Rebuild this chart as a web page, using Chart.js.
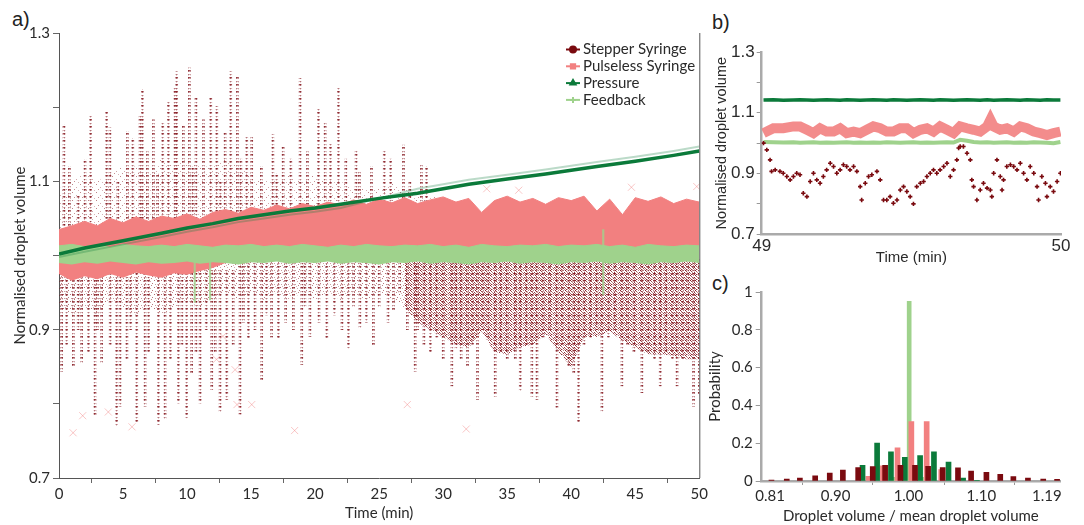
<!DOCTYPE html>
<html><head><meta charset="utf-8">
<script src="https://cdn.jsdelivr.net/npm/chart.js@4.4.1/dist/chart.umd.min.js"></script>
<style>
html,body{margin:0;padding:0;background:#fff;width:1084px;height:525px;overflow:hidden;}
canvas{position:absolute;}
.lab{position:absolute;font-family:"Liberation Sans",Arial,sans-serif;font-size:20px;color:#222;line-height:22px;}
</style></head><body>
<div class="lab" style="left:12px;top:8px">a)</div>
<div class="lab" style="left:712px;top:11px">b)</div>
<div class="lab" style="left:712px;top:272px">c)</div>
<canvas id="ca" style="left:0;top:0" width="710" height="525"></canvas>
<canvas id="cb" style="left:700px;top:0" width="384" height="270"></canvas>
<canvas id="cc" style="left:700px;top:270px" width="384" height="255"></canvas>
<script>
// ---------- shared ----------
const seriesNames = ['Stepper Syringe','Pulseless Syringe','Pressure','Feedback'];
const C_RED = '#7a0a0f', C_PINK = '#f28080', C_DG = '#0b7a3a', C_LG = '#9fd28c';

// ---------- panel a data ----------
const timeTicksA = [0,5,10,15,20,25,30,35,40,45,50];
const yTickValsA = [0.7,0.8,0.9,1.0,1.1,1.2,1.3];
const yTickLabelsA = ['0.7','','0.9','','1.1','','1.3'];

// Stepper syringe: vertical streaks (time, lowest value, highest value)
const stepperT = [
 0.39,0.81,1.5,2.03,2.47,3.72,3.98,4.6,5.34,5.76,6.33,6.51,6.9,7.37,7.7,8.1,8.54,9.06,9.19,9.71,
 10.18,10.45,10.7,11.28,11.85,12.32,12.6,12.97,13.41,13.93,14.2,14.66,15.05,15.8,16.7,17.0,17.5,18.1,18.83,19.4,
 20.26,20.78,21.2,21.82,22.4,23.2,23.46,24.4,25.4,25.9,26.9,27.4,28.3,28.7,
 0.21,0.6,1.12,1.5,1.77,2.3,2.81,3.0,3.33,4.0,4.5,4.77,5.3,5.6,6.07,6.72,7.0,7.76,8.28,8.7,
 9.32,9.6,9.97,10.36,10.7,11.02,11.5,11.93,12.2,12.58,13.1,13.6,14.14,14.4,14.79,15.3,15.83,16.2,16.6,17.13,
 17.7,18.3,18.96,19.2,19.6,20.3,20.91,21.5,22.1,22.6,23.0,23.5,24.0,24.55,25.0,25.7,26.12,26.6,27.2,27.81,
 28.0,28.5,29.0,29.5,30.0,30.68,31.0,31.4,31.9,32.3,32.68,33.1,33.5,34.06,34.5,35.0,35.63,36.02,36.5,36.93,
 37.32,37.8,38.3,38.88,39.3,39.8,40.2,40.57,41.0,41.5,42.0,42.4,42.9,43.4,43.96,44.4,44.9,45.52,46.0,46.5,
 46.95,47.4,47.9,48.26,48.7,49.1,49.55,50.0];
const stepperLo = [
 1.02,1.02,1.02,1.02,1.02,1.02,1.02,1.02,1.02,1.02,1.02,1.02,1.02,1.02,1.02,1.02,1.02,1.02,1.02,1.02,
 1.02,1.02,1.02,1.02,1.02,1.02,1.02,1.02,1.02,1.02,1.04,1.04,1.04,1.04,1.04,1.04,1.04,1.04,1.04,1.04,
 1.05,1.05,1.05,1.05,1.05,1.05,1.05,1.05,1.05,1.05,1.05,1.05,1.05,1.05,
 0.844,0.880,0.851,0.900,0.855,0.870,0.783,0.900,0.855,0.880,0.770,0.797,0.860,0.900,0.774,0.797,0.870,0.772,0.779,0.860,
 0.801,0.880,0.781,0.842,0.870,0.801,0.900,0.819,0.870,0.788,0.806,0.880,0.786,0.910,0.887,0.900,0.830,0.920,0.890,0.887,
 0.910,0.900,0.853,0.930,0.891,0.910,0.889,0.920,0.900,0.875,0.930,0.902,0.910,0.878,0.930,0.910,0.927,0.950,0.900,0.844,
 0.900,0.880,0.870,0.890,0.860,0.824,0.875,0.860,0.850,0.880,0.806,0.900,0.890,0.810,0.870,0.860,0.860,0.817,0.880,0.810,
 0.806,0.890,0.900,0.795,0.880,0.850,0.840,0.774,0.880,0.890,0.900,0.790,0.890,0.900,0.824,0.880,0.870,0.815,0.870,0.860,
 0.824,0.870,0.860,0.824,0.860,0.870,0.797,0.811];
const stepperHi = [
 1.176,1.120,1.080,1.129,1.190,1.194,1.172,1.100,1.167,1.158,1.188,1.224,1.140,1.183,1.110,1.179,1.208,1.226,1.248,1.174,
 1.253,1.120,1.212,1.183,1.212,1.201,1.100,1.165,1.248,1.241,1.130,1.161,1.161,1.120,1.163,1.110,1.147,1.130,1.239,1.140,
 1.197,1.181,1.150,1.226,1.130,1.143,1.113,1.120,1.143,1.130,1.149,1.100,1.122,1.120,
 0.98,0.98,0.98,0.98,0.98,0.98,0.98,0.98,0.98,0.98,0.98,0.98,0.98,0.98,0.98,0.98,0.98,0.98,0.98,0.98,
 0.98,0.98,0.98,0.98,0.98,0.98,0.98,0.98,0.98,0.98,0.98,0.98,0.99,0.99,0.99,0.99,0.99,0.99,0.99,0.99,
 0.99,0.99,0.99,0.99,0.99,0.99,0.99,0.99,0.99,0.99,0.99,0.99,0.99,0.99,0.99,0.99,0.99,0.99,0.99,0.99,
 0.995,0.995,0.995,0.995,0.995,0.995,0.995,0.995,0.995,0.995,0.995,0.995,0.995,0.995,0.995,0.995,0.995,0.995,0.995,0.995,
 0.995,0.995,0.995,0.995,0.995,0.995,0.995,0.995,0.995,0.995,0.995,0.995,0.995,0.995,0.995,0.995,0.995,0.995,0.995,0.995,
 0.995,0.995,0.995,0.995,0.995,0.995,0.995,0.995];

// Per-minute envelopes
const bandT = [0,1,2,3,4,5,6,7,8,9,10,11,12,13,14,15,16,17,18,19,20,21,22,23,24,25,26,27,28,29,30,31,32,33,34,35,36,37,38,39,40,41,42,43,44,45,46,47,48,49,50];
// Stepper: dense cloud of points below the bands, and above the bands
const stepperCloudLo = [0.93,0.92,0.93,0.92,0.94,0.93,0.92,0.93,0.92,0.93,0.94,0.93,0.94,0.95,0.94,0.95,0.94,0.95,0.94,0.95,
 0.94,0.95,0.94,0.95,0.94,0.95,0.94,0.93,0.91,0.90,0.89,0.88,0.876,0.898,0.87,0.867,0.876,0.88,0.894,0.87,
 0.85,0.89,0.89,0.898,0.885,0.876,0.867,0.867,0.865,0.86,0.86];
const stepperCloudHi = [0.995,0.995,0.995,0.995,0.995,0.995,0.995,0.995,0.995,0.995,0.995,0.995,0.995,0.995,0.995,0.995,0.995,0.995,0.995,0.995,
 0.995,0.995,0.995,0.995,0.995,0.995,0.995,0.995,0.995,0.995,0.995,0.995,0.995,0.995,0.995,0.995,0.995,0.995,0.995,0.995,
 0.995,0.995,0.995,0.995,0.995,0.995,0.995,0.995,0.995,0.995,0.995];
const stepperUpperHi = [1.09,1.10,1.11,1.10,1.11,1.12,1.12,1.11,1.13,1.12,1.13,1.12,1.12,1.13,1.12,1.11,1.10,1.10,1.11,1.10,
 1.11,1.10,1.10,1.09,1.09,1.09,1.10,1.09,1.08,1.08,1.079,1.072,1.077,1.058,1.074,1.080,1.072,1.077,1.069,1.078,
 1.074,1.080,1.060,1.076,1.055,1.078,1.073,1.079,1.070,1.076,1.072];

// Pulseless syringe band and outlying crosses
const pulselessTop = [1.035,1.040,1.046,1.040,1.050,1.044,1.052,1.046,1.053,1.050,1.056,1.049,1.058,1.062,1.057,1.065,1.061,1.068,1.063,1.070,
 1.066,1.072,1.068,1.075,1.069,1.076,1.071,1.078,1.070,1.075,1.079,1.072,1.077,1.058,1.074,1.080,1.072,1.077,1.069,1.078,
 1.074,1.080,1.060,1.076,1.055,1.078,1.073,1.079,1.070,1.076,1.072];
const pulselessBottom = [0.975,0.966,0.972,0.968,0.975,0.970,0.977,0.973,0.970,0.976,0.974,0.979,0.983,0.990,0.995,0.995,0.995,0.995,0.995,0.995,
 0.995,0.995,0.995,0.995,0.995,0.995,0.995,0.995,0.995,0.995,0.995,0.995,0.995,0.995,0.995,0.995,0.995,0.995,0.995,0.995,
 0.995,0.995,0.995,0.995,0.995,0.995,0.995,0.995,0.995,0.995,0.995];
const pulselessOutT = [1.1,1.85,3.85,5.7,12.3,12.8,13.75,13.9,15.05,18.4,27.2,31.8,33.4,35.9,44.7,49.8];
const pulselessOutV = [0.761,0.784,0.789,0.769,0.860,0.891,0.846,0.799,0.799,0.764,0.799,0.766,1.090,1.088,1.092,1.093];

// Feedback band and spikes
const feedbackTop = [1.013,1.015,1.012,1.014,1.011,1.015,1.013,1.012,1.014,1.012,1.015,1.013,1.011,1.014,1.013,1.015,1.012,1.014,1.012,1.015,
 1.013,1.011,1.014,1.012,1.015,1.013,1.012,1.014,1.013,1.015,1.012,1.014,1.011,1.015,1.013,1.012,1.014,1.013,1.015,1.012,
 1.014,1.013,1.015,1.012,1.014,1.011,1.015,1.013,1.012,1.014,1.013];
const feedbackBottom = [0.990,0.988,0.991,0.989,0.992,0.990,0.988,0.991,0.989,0.990,0.992,0.989,0.991,0.990,0.988,0.991,0.990,0.992,0.989,0.991,
 0.990,0.992,0.989,0.991,0.990,0.988,0.991,0.990,0.992,0.989,0.991,0.990,0.988,0.991,0.990,0.992,0.989,0.991,0.990,0.988,
 0.991,0.990,0.992,0.989,0.991,0.990,0.988,0.991,0.990,0.992,0.990];
const feedbackSpikeT = [10.6,11.8,42.5];
const feedbackSpikeLo = [0.937,0.940,0.947];
const feedbackSpikeHi = [1.0,1.0,1.035];

// Pressure (two tracks)
const pressureT = [0,2,5,8,10,12,14,16,18,20,22,25,28,30,32,35,38,40,42,45,48,50];
const pressureV = [1.002,1.010,1.020,1.030,1.037,1.043,1.050,1.055,1.060,1.064,1.069,1.077,1.084,1.090,1.096,1.103,1.110,1.115,1.120,1.127,1.135,1.141];
const pressureAltV = [0.998,1.005,1.015,1.025,1.032,1.038,1.045,1.050,1.055,1.059,1.064,1.077,1.090,1.096,1.102,1.109,1.116,1.121,1.126,1.133,1.141,1.147];

// ---------- panel b data (minute 49-50) ----------
const stepperBT = [
 49.006,49.017,49.028,49.033,49.045,49.061,49.072,49.084,49.095,49.106,
 49.117,49.128,49.139,49.151,49.162,49.173,49.184,49.195,49.206,49.217,
 49.229,49.240,49.251,49.262,49.273,49.284,49.295,49.307,49.318,49.329,
 49.334,49.346,49.357,49.368,49.385,49.396,49.407,49.418,49.429,49.440,
 49.452,49.463,49.474,49.485,49.496,49.507,49.518,49.530,49.541,49.552,
 49.563,49.574,49.585,49.596,49.608,49.619,49.630,49.641,49.652,49.658,
 49.663,49.674,49.686,49.697,49.702,49.708,49.719,49.730,49.741,49.753,
 49.764,49.769,49.775,49.786,49.797,49.803,49.808,49.819,49.831,49.842,
 49.853,49.864,49.875,49.886,49.897,49.909,49.920,49.925,49.936,49.948,
 49.953,49.964,49.975,49.987,49.998];
const stepperBV = [
 1.000,0.978,0.945,0.907,0.912,0.907,0.901,0.890,0.879,0.890,
 0.901,0.896,0.835,0.824,0.874,0.901,0.879,0.868,0.890,0.912,
 0.934,0.923,0.901,0.912,0.929,0.923,0.912,0.923,0.907,0.857,
 0.813,0.868,0.890,0.896,0.907,0.879,0.813,0.813,0.824,0.802,
 0.813,0.846,0.857,0.841,0.824,0.800,0.857,0.868,0.874,0.890,
 0.901,0.912,0.901,0.912,0.923,0.934,0.890,0.912,0.945,0.984,
 0.989,0.989,0.967,0.945,0.879,0.857,0.813,0.846,0.868,0.852,
 0.846,0.824,0.901,0.945,0.890,0.846,0.879,0.923,0.929,0.923,
 0.912,0.934,0.901,0.879,0.923,0.901,0.857,0.813,0.890,0.868,
 0.824,0.857,0.841,0.874,0.901];
const bT = [49.006,49.039,49.072,49.106,49.128,49.151,49.173,49.195,49.217,49.240,49.262,49.284,49.307,49.329,49.351,
 49.373,49.396,49.418,49.440,49.463,49.485,49.507,49.530,49.552,49.574,49.596,49.619,49.641,49.663,49.686,
 49.708,49.730,49.753,49.764,49.775,49.797,49.819,49.842,49.864,49.886,49.909,49.931,49.953,49.975,49.998];
const pulselessBV = [1.033,1.049,1.049,1.055,1.055,1.044,1.033,1.049,1.038,1.038,1.049,1.033,1.038,1.033,1.044,
 1.055,1.049,1.038,1.038,1.049,1.049,1.033,1.044,1.049,1.038,1.055,1.044,1.033,1.055,1.049,
 1.044,1.038,1.055,1.077,1.055,1.044,1.049,1.038,1.055,1.049,1.038,1.033,1.027,1.033,1.038];
const feedbackBV = [1.004,1.003,1.002,1.003,1.001,1.002,1.003,1.001,1.002,1.001,1.002,1.003,1.001,1.002,1.001,
 1.002,1.001,1.003,1.002,1.001,1.002,1.003,1.001,1.002,1.001,1.002,1.003,1.002,1.011,1.008,
 1.004,1.002,1.003,1.002,1.001,1.002,1.003,1.001,1.002,1.001,1.003,1.002,1.001,1.000,1.004];
const pressureBV = [1.142,1.143,1.141,1.142,1.143,1.142,1.141,1.142,1.143,1.142,1.141,1.143,1.142,1.141,1.142,
 1.143,1.142,1.141,1.143,1.142,1.141,1.142,1.143,1.142,1.141,1.143,1.142,1.141,1.142,1.143,
 1.142,1.141,1.143,1.142,1.141,1.142,1.143,1.142,1.141,1.143,1.142,1.141,1.143,1.142,1.142];
const yTickValsB = [0.7,0.8,0.9,1.0,1.1,1.2,1.3];
const yTickLabelsB = ['0.7','','0.9','','1.1','','1.3'];
const xTickValsB = [49,50];

// ---------- panel c data (histogram) ----------
const histTicks = [0.81,0.90,1.00,1.10,1.19];
const histStepperX = [0.812,0.833,0.851,0.872,0.892,0.910,0.931,0.951,0.968,0.989,1.009,1.027,1.047,1.068,1.086,1.107,1.126,1.144,1.164,1.185,1.204];
const histStepperP = [0.005,0.010,0.016,0.028,0.042,0.058,0.071,0.076,0.083,0.083,0.083,0.078,0.071,0.070,0.053,0.046,0.035,0.023,0.016,0.010,0.009];
const histPressureX = [0.937,0.957,0.976,0.995,1.016,1.035,1.055,1.075,1.094];
const histPressureP = [0.083,0.200,0.155,0.125,0.135,0.155,0.100,0.015,0.003];
const histPulselessX = [0.945,0.965,0.985,1.004,1.025,1.045];
const histPulselessP = [0.025,0.080,0.175,0.315,0.315,0.060];
const histFeedbackX = [0.980,1.001,1.018];
const histFeedbackP = [0.020,0.950,0.020];
const yTickValsC = [0,0.2,0.4,0.6,0.8,1];

// ---------- helpers ----------
const FA = 'Lato, "Open Sans", sans-serif';
const FB = '"Liberation Sans", Arial, sans-serif';
const TXT = '#2a2a2a';
const pts = (xs, ys) => xs.map((x,i)=>({x:x, y:ys[i]}));
const ranges = (xs, lo, hi) => xs.map((x,i)=>({x:x, y:[lo[i], hi[i]]}));
const setTicks = vals => (s => { s.ticks = vals.map(v=>({value:v})); });
const labelFrom = (vals, labels) => (v => { const i = vals.findIndex(a=>Math.abs(a-v)<1e-6); return i<0 ? '' : labels[i]; });

// textures that give the marker-cloud look of the stepper series
const ctxA = document.getElementById('ca').getContext('2d');
function pattern(w, h, cells, rgb){
  const c = document.createElement('canvas'); c.width = w; c.height = h;
  const g = c.getContext('2d');
  cells.forEach(([x,y,a]) => { g.fillStyle = 'rgba(' + rgb + ',' + a + ')'; g.fillRect(x,y,1,1); });
  return ctxA.createPattern(c, 'repeat');
}
const RGB = '125,8,16';
const streakFill = pattern(2, 7, [[0,0,0.85],[1,0,0.7],[0,1,0.6],[1,1,0.35],[0,4,0.55],[1,4,0.3],[0,5,0.2]], RGB);
const earlyCloudFill = pattern(7, 7, [[0,0,0.6],[3,1,0.35],[5,3,0.55],[1,4,0.4],[4,5,0.5],[2,6,0.3]], RGB);
const lateCloudFill = pattern(5, 5, [[0,0,0.9],[3,0,0.5],[1,1,0.7],[4,2,0.85],[2,2,0.45],[0,3,0.6],[3,3,0.75],[1,4,0.85],[4,4,0.45],[2,4,0.3]], RGB);
const upperFill = pattern(8, 8, [[0,0,0.5],[4,3,0.35],[2,5,0.45],[6,6,0.3]], RGB);

const rightBorder = {
  id:'rightBorder',
  afterDraw(chart){
    const {ctx, chartArea:a} = chart;
    ctx.save(); ctx.strokeStyle='#555'; ctx.lineWidth=1;
    ctx.beginPath(); ctx.moveTo(a.right+0.5, a.top); ctx.lineTo(a.right+0.5, a.bottom); ctx.stroke();
    ctx.restore();
  }
};
const legendColors = [C_RED, C_PINK, C_DG, C_LG];
const legendStyles = ['circle','rect','triangle','cross'];
const customLegend = {
  id:'customLegend',
  afterDraw(chart){
    const ctx = chart.ctx;
    ctx.save();
    seriesNames.forEach((name,i)=>{
      const y = 49.5 + i*16.8, x0 = 566;
      ctx.strokeStyle = legendColors[i]; ctx.fillStyle = legendColors[i]; ctx.lineWidth = 2;
      ctx.beginPath(); ctx.moveTo(x0, y); ctx.lineTo(x0+14, y); ctx.stroke();
      Chart.helpers.drawPoint(ctx, {pointStyle: legendStyles[i], rotation:0, radius: 3, borderWidth: 1.5}, x0+7, y);
      ctx.fillStyle = TXT; ctx.font = '15px ' + FA; ctx.textBaseline = 'middle'; ctx.textAlign = 'left';
      ctx.fillText(name, x0+17, y);
    });
    ctx.restore();
  }
};

Chart.defaults.animation = false;
Chart.defaults.responsive = false;
Chart.defaults.devicePixelRatio = 1;
Chart.defaults.plugins.legend.display = false;
Chart.defaults.plugins.tooltip.enabled = false;
Chart.defaults.color = TXT;

const early = a => a.slice(0, 28), late = a => a.slice(27);

// ---------- panel a ----------
new Chart(ctxA, {
  type:'line',
  data:{datasets:[
    {data: pts(early(bandT), early(stepperCloudLo)), pointRadius:0, borderWidth:0, fill:false, order:12},
    {data: pts(early(bandT), early(stepperCloudHi)), pointRadius:0, borderWidth:0, backgroundColor:earlyCloudFill, fill:'-1', order:12},
    {data: pts(late(bandT), late(stepperCloudLo)), pointRadius:0, borderWidth:0, fill:false, order:12},
    {data: pts(late(bandT), late(stepperCloudHi)), pointRadius:0, borderWidth:0, backgroundColor:lateCloudFill, fill:'-1', order:12},
    {data: pts(bandT, pulselessTop), pointRadius:0, borderWidth:0, fill:false, order:11},
    {data: pts(bandT, stepperUpperHi), pointRadius:0, borderWidth:0, backgroundColor:upperFill, fill:'-1', order:11},
    {type:'bar', data: ranges(stepperT, stepperLo, stepperHi), backgroundColor:streakFill, barThickness:2, grouped:false, order:10},
    {data: pts(pulselessOutT, pulselessOutV), showLine:false, pointStyle:'crossRot', pointRadius:5, pointBorderWidth:1, borderColor:'rgba(242,128,128,0.45)', order:9},
    {data: pts(bandT, pulselessBottom), pointRadius:0, borderWidth:0, borderColor:C_PINK, fill:false, order:8},
    {data: pts(bandT, pulselessTop), pointRadius:0, borderWidth:1, borderColor:C_PINK, backgroundColor:C_PINK, fill:'-1', order:8},
    {type:'bar', data: ranges(feedbackSpikeT, feedbackSpikeLo, feedbackSpikeHi), backgroundColor:'rgba(159,210,140,0.8)', barThickness:1.5, grouped:false, order:7},
    {data: pts(bandT, feedbackBottom), pointRadius:0, borderWidth:0, borderColor:C_LG, fill:false, order:6},
    {data: pts(bandT, feedbackTop), pointRadius:0, borderWidth:1, borderColor:C_LG, backgroundColor:C_LG, fill:'-1', order:6},
    {data: pts(pressureT, pressureAltV), pointRadius:0, borderWidth:2, borderColor:'rgba(11,122,58,0.28)', fill:false, order:5},
    {data: pts(pressureT, pressureV), pointRadius:0, borderWidth:3.5, borderColor:C_DG, fill:false, order:4}
  ]},
  options:{
    layout:{padding:{top:33, right:10, bottom:0, left:0}},
    scales:{
      x:{type:'linear', min:0, max:50, offset:false,
         afterBuildTicks: setTicks(timeTicksA), afterFit: s=>{ s.height = 47; },
         grid:{display:true, drawOnChartArea:false, drawTicks:true, tickLength:5, color:'#666'},
         border:{display:true, color:'#555', width:1},
         ticks:{font:{family:FA, size:15}, color:TXT, padding:2, maxRotation:0, autoSkip:false, callback: v=>String(v)},
         title:{display:true, text:'Time (min)', font:{family:FA, size:15}, color:TXT, padding:{top:0, bottom:3}}},
      y:{type:'linear', min:0.7, max:1.3,
         afterBuildTicks: setTicks(yTickValsA), afterFit: s=>{ s.width = 59; },
         grid:{display:true, drawOnChartArea:false, drawTicks:true, tickLength:6, color:'#666'},
         border:{display:true, color:'#555', width:1},
         ticks:{font:{family:FA, size:15}, color:TXT, padding:3, autoSkip:false, callback: labelFrom(yTickValsA, yTickLabelsA)},
         title:{display:true, text:'Normalised droplet volume', font:{family:FA, size:15}, color:TXT, padding:{top:11, bottom:0}}}
    }
  },
  plugins:[rightBorder, customLegend]
});

// ---------- panel b ----------
new Chart(document.getElementById('cb'), {
  type:'line',
  data:{datasets:[
    {data: pts(stepperBT, stepperBV), showLine:false, pointStyle:'cross', pointRadius:2.2, pointBorderWidth:1.6, borderColor:C_RED, order:1},
    {data: pts(bT, pressureBV), pointRadius:0, borderWidth:3.5, borderColor:C_DG, fill:false, order:2},
    {data: pts(bT, feedbackBV), pointRadius:0, borderWidth:4, borderColor:C_LG, fill:false, order:3},
    {data: pts(bT, pulselessBV), pointRadius:0, borderWidth:10, borderColor:'rgba(242,128,128,0.9)', fill:false, order:4}
  ]},
  options:{
    layout:{padding:{top:52, right:23, bottom:0, left:0}},
    scales:{
      x:{type:'linear', min:49, max:50, offset:false,
         afterBuildTicks: setTicks(xTickValsB), afterFit: s=>{ s.height = 35.7; },
         grid:{display:false, drawTicks:false},
         border:{display:true, color:'#aaa', width:2.5},
         ticks:{font:{family:FB, size:17}, color:TXT, padding:2, maxRotation:0, autoSkip:false, callback: v=>String(v)},
         title:{display:true, text:'Time (min)', font:{family:FB, size:15}, color:TXT, padding:{top:0, bottom:3}}},
      y:{type:'linear', min:0.7, max:1.3,
         afterBuildTicks: setTicks(yTickValsB), afterFit: s=>{ s.width = 61.7; },
         grid:{display:true, drawOnChartArea:false, drawTicks:true, tickLength:5, color:'#999'},
         border:{display:true, color:'#aaa', width:2.5},
         ticks:{font:{family:FB, size:17}, color:TXT, padding:2, autoSkip:false, callback: labelFrom(yTickValsB, yTickLabelsB)},
         title:{display:true, text:'Normalised droplet volume', font:{family:FB, size:14.5}, color:TXT, padding:{top:13, bottom:0}}}
    }
  }
});

// ---------- panel c ----------
new Chart(document.getElementById('cc'), {
  type:'bar',
  data:{datasets:[
    {label:seriesNames[3], data: pts(histFeedbackX, histFeedbackP), backgroundColor:C_LG, barThickness:4, grouped:false, order:4},
    {label:seriesNames[1], data: pts(histPulselessX, histPulselessP), backgroundColor:C_PINK, barThickness:5, grouped:false, order:3},
    {label:seriesNames[2], data: pts(histPressureX, histPressureP), backgroundColor:C_DG, barThickness:5, grouped:false, order:2},
    {label:seriesNames[0], data: pts(histStepperX, histStepperP), backgroundColor:C_RED, barThickness:5, grouped:false, order:1}
  ]},
  options:{
    layout:{padding:{top:22, right:24, bottom:0, left:0}},
    scales:{
      x:{type:'linear', min:0.7986, max:1.208, offset:false,
         afterBuildTicks: setTicks(histTicks), afterFit: s=>{ s.height = 44; },
         grid:{display:true, drawOnChartArea:false, drawTicks:true, tickLength:4, color:'#999'},
         border:{display:true, color:'#aaa', width:2.5},
         ticks:{font:{family:FA, size:15}, color:TXT, padding:2, maxRotation:0, autoSkip:false, callback: v=>v.toFixed(2)},
         title:{display:true, text:'Droplet volume / mean droplet volume', font:{family:FA, size:15}, color:TXT, padding:{top:0, bottom:0}}},
      y:{type:'linear', min:0, max:1,
         afterBuildTicks: setTicks(yTickValsC), afterFit: s=>{ s.width = 61.7; },
         grid:{display:true, drawOnChartArea:false, drawTicks:true, tickLength:6, color:'#999'},
         border:{display:true, color:'#aaa', width:2.5},
         ticks:{font:{family:FA, size:15}, color:TXT, padding:3, autoSkip:false, callback: v=>String(+v.toFixed(1))},
         title:{display:true, text:'Probability', font:{family:FA, size:15}, color:TXT, padding:{top:6, bottom:0}}}
    }
  }
});
</script>
</body></html>
